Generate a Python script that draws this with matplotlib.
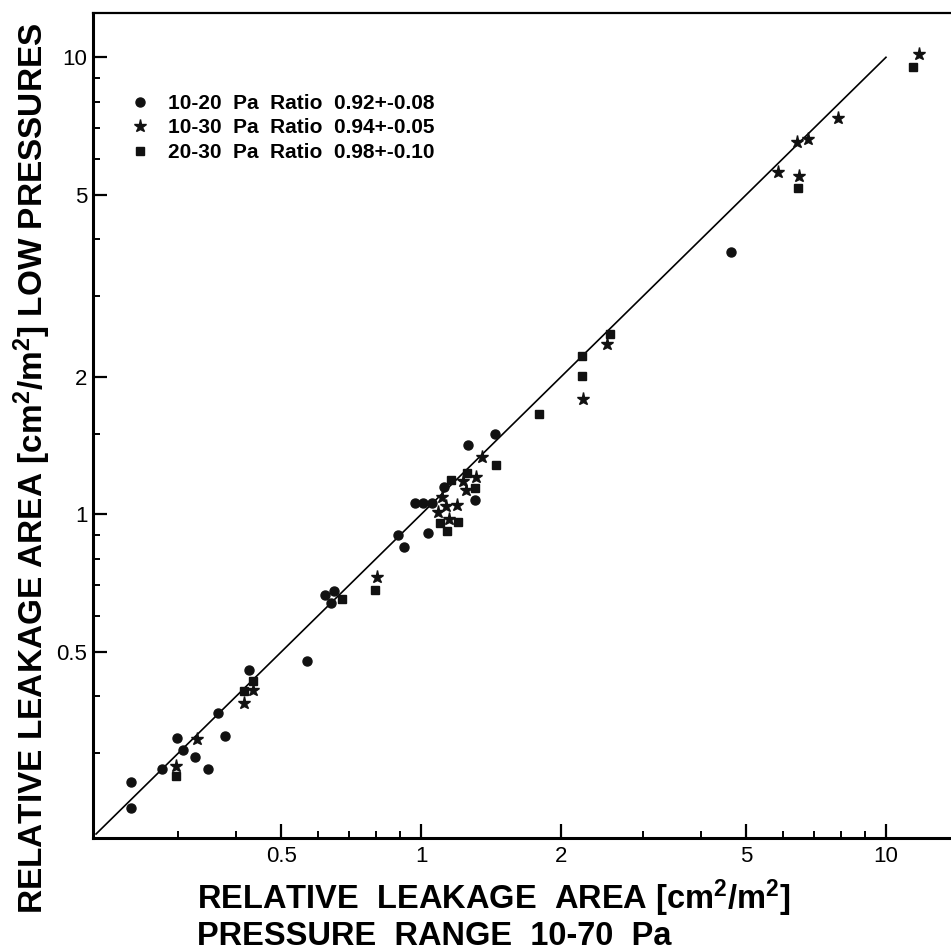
import matplotlib
matplotlib.use('Agg')
import matplotlib.pyplot as plt
from matplotlib.ticker import FixedLocator, FixedFormatter, NullFormatter

plt.rcParams['mathtext.fontset'] = 'custom'
plt.rcParams['mathtext.rm'] = 'Liberation Sans:bold'
plt.rcParams['mathtext.default'] = 'rm'

# 10-20 Pa (circles)
x_1020 = [0.238, 0.238, 0.277, 0.298, 0.307, 0.326, 0.348, 0.366, 0.378, 0.427,
          0.569, 0.622, 0.651, 0.641, 0.894, 0.919, 0.971, 1.012, 1.054, 1.037,
          1.122, 1.264, 1.309, 1.443, 4.64]
y_1020 = [0.260, 0.228, 0.277, 0.325, 0.306, 0.294, 0.277, 0.368, 0.327, 0.456,
          0.477, 0.667, 0.680, 0.641, 0.900, 0.848, 1.061, 1.061, 1.061, 0.912,
          1.147, 1.417, 1.078, 1.50, 3.76]

# 10-30 Pa (stars)
x_1030 = [0.297, 0.329, 0.417, 0.435, 0.805, 1.086, 1.111, 1.132, 1.147, 1.195,
          1.229, 1.248, 1.311, 1.351, 2.23, 2.51, 5.85, 6.43, 6.79, 6.49, 7.87, 11.76]
y_1030 = [0.282, 0.322, 0.386, 0.413, 0.731, 1.013, 1.093, 1.043, 0.979, 1.051,
          1.186, 1.130, 1.206, 1.334, 1.79, 2.36, 5.62, 6.53, 6.62, 5.51, 7.38, 10.15]

# 20-30 Pa (squares)
x_2030 = [0.297, 0.416, 0.435, 0.675, 0.796, 1.099, 1.139, 1.160, 1.201, 1.258,
          1.305, 1.447, 1.79, 2.22, 2.22, 2.55, 6.47, 11.45]
y_2030 = [0.268, 0.412, 0.433, 0.652, 0.684, 0.956, 0.920, 1.192, 0.961, 1.233,
          1.144, 1.286, 1.66, 2.22, 2.01, 2.48, 5.19, 9.52]

labels = ['10-20  Pa  Ratio  0.92+-0.08',
          '10-30  Pa  Ratio  0.94+-0.05',
          '20-30  Pa  Ratio  0.98+-0.10']

# y = x reference line
ref_line = [0.2, 10.0]

major_ticks = [0.5, 1, 2, 5, 10]
major_labels = ['0.5', '1', '2', '5', '10']
x_minor = [0.3, 0.4, 0.6, 0.7, 0.8, 0.9, 3, 4, 6, 7, 8, 9]
y_minor = [0.3, 0.4, 0.6, 0.7, 0.8, 0.9, 1.5, 3, 4, 6, 7, 8, 9]

W, H = 951, 952
fig = plt.figure(figsize=(W / 100, H / 100), dpi=100)
ax = fig.add_axes([93 / W, (H - 838) / H, (W - 93) / W, 825 / H])

ax.set_xscale('log')
ax.set_yscale('log')
ax.set_xlim(0.197, 13.8)
ax.set_ylim(0.196, 12.5)

ax.plot(ref_line, ref_line, color='black', lw=1.2)
ax.plot(x_1020, y_1020, 'o', color='#111111', ms=6.5, label=labels[0])
ax.plot(x_1030, y_1030, '*', color='#111111', ms=9.5, label=labels[1])
ax.plot(x_2030, y_2030, 's', color='#111111', ms=6, label=labels[2])

# ticks
for axis, minor in ((ax.xaxis, x_minor), (ax.yaxis, y_minor)):
    axis.set_major_locator(FixedLocator(major_ticks))
    axis.set_major_formatter(FixedFormatter(major_labels))
    axis.set_minor_locator(FixedLocator(minor))
    axis.set_minor_formatter(NullFormatter())
ax.tick_params(which='major', direction='in', length=10, width=1.6, labelsize=16,
               labelfontfamily='Liberation Sans')
ax.tick_params(which='minor', direction='in', length=5, width=1.4)
ax.tick_params(axis='x', which='major', pad=6)
ax.tick_params(axis='y', which='major', pad=4)

ax.spines['right'].set_visible(False)
ax.spines['left'].set_linewidth(2.2)
ax.spines['bottom'].set_linewidth(2.2)
ax.spines['top'].set_linewidth(1.6)

leg = ax.legend(loc='upper left', bbox_to_anchor=(130 / W, 1 - 94 / H),
                bbox_transform=fig.transFigure, frameon=False,
                prop={'family': 'Liberation Sans', 'weight': 'bold', 'size': 15},
                handlelength=1.0, handletextpad=0.8, labelspacing=0.26,
                borderpad=0, borderaxespad=0)

label_font = {'family': 'Liberation Sans', 'weight': 'bold', 'size': 23.5}
fig.text(197 / W, 1 - 909 / H, 'RELATIVE  LEAKAGE  AREA [cm$^2$/m$^2$]',
         ha='left', va='baseline', fontdict=label_font)
fig.text(197 / W, 1 - 945 / H, 'PRESSURE  RANGE  10-70  Pa',
         ha='left', va='baseline', fontdict=label_font)
fig.text(32 / W, 1 - 468.5 / H,
         'RELATIVE LEAKAGE AREA [cm$^2$/m$^2$] LOW PRESSURES',
         rotation=90, ha='center', va='center',
         fontdict=dict(label_font, size=24))

fig.savefig('out.png', dpi=100)
